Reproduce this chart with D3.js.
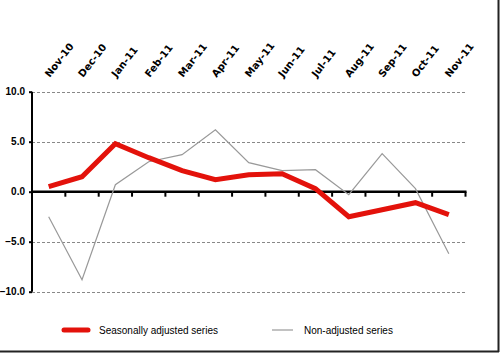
<!DOCTYPE html>
<html><head><meta charset="utf-8">
<script src="https://cdn.jsdelivr.net/npm/d3@7"></script>
<style>body{margin:0;background:#fff}svg{display:block}</style>
</head><body><svg id="c" width="500" height="355"></svg>
<script>
const months = ["Nov-10","Dec-10","Jan-11","Feb-11","Mar-11","Apr-11","May-11","Jun-11","Jul-11","Aug-11","Sep-11","Oct-11","Nov-11"];
const seasonallyAdjusted = [0.5,1.5,4.8,3.4,2.1,1.2,1.7,1.8,0.3,-2.5,-1.8,-1.1,-2.3];
const nonAdjusted = [-2.5,-8.8,0.7,3.0,3.7,6.2,2.9,2.1,2.2,-0.3,3.8,0.3,-6.2];
const yTicks = [10,5,0,-5,-10];
const seriesNames = ["Seasonally adjusted series","Non-adjusted series"];

const svg = d3.select("#c");
const x = d3.scaleBand().domain(months).range([32,465.5]);
const y = d3.scaleLinear().domain([-10,10]).range([291.7,91.7]);
const cx = d => x(d) + x.bandwidth()/2;

// frame (right and bottom)
svg.append("line").attr("x1",498.5).attr("x2",498.5).attr("y1",0).attr("y2",352).attr("stroke","#222").attr("stroke-width",2);
svg.append("line").attr("x1",0).attr("x2",499).attr("y1",351.5).attr("y2",351.5).attr("stroke","#222").attr("stroke-width",2);

// gridlines
svg.append("g").selectAll("line").data(yTicks.filter(t=>t!==0)).join("line")
  .attr("x1",32).attr("x2",465.5).attr("y1",d=>Math.round(y(d))+0.5).attr("y2",d=>Math.round(y(d))+0.5)
  .attr("stroke","#888").attr("stroke-width",1).attr("stroke-dasharray","3,2");

// y axis
const yAxis = svg.append("g").attr("transform","translate(32,0)")
  .call(d3.axisLeft(y).tickValues(yTicks).tickSize(3).tickFormat(d3.format(".1f")));
yAxis.select(".domain").attr("stroke","#000").attr("stroke-width",2).attr("d",`M0,${y(10)}V${y(-10)}`);
yAxis.selectAll(".tick line").attr("stroke","#000").attr("stroke-width",2);
yAxis.selectAll(".tick text").attr("x",-7).attr("font-family","Liberation Sans, Arial, sans-serif")
  .attr("font-weight","bold").attr("font-size",10).attr("fill","#000");

// x axis at zero
const xAxis = svg.append("g").attr("transform",`translate(0,${y(0)})`)
  .call(d3.axisBottom(x).tickSize(0).tickFormat(""));
xAxis.select(".domain").attr("stroke","#000").attr("stroke-width",2.5).attr("d","M32,0H466.5");
svg.append("g").selectAll("line").data(months).join("line")
  .attr("x1",d=>x(d)+x.bandwidth()).attr("x2",d=>x(d)+x.bandwidth())
  .attr("y1",y(0)).attr("y2",y(0)+5).attr("stroke","#000").attr("stroke-width",2);

// month labels
svg.append("g").selectAll("text").data(months).join("text")
  .attr("transform",d=>`translate(${cx(d)+1},78) rotate(-52)`)
  .attr("font-family","DejaVu Sans, sans-serif").attr("font-weight","bold")
  .attr("font-size",10).attr("fill","#000").text(d=>d);

// lines
const line = d3.line().x((d,i)=>cx(months[i])).y(d=>y(d));
svg.append("path").datum(nonAdjusted).attr("d",line).attr("fill","none").attr("stroke","#999").attr("stroke-width",1.2);
svg.append("path").datum(seasonallyAdjusted).attr("d",line).attr("fill","none").attr("stroke","#e3120b")
  .attr("stroke-width",5).attr("stroke-linejoin","miter");

// legend
const lg = svg.append("g").attr("font-family","Liberation Sans, Arial, sans-serif").attr("font-size",10).attr("fill","#000");
lg.append("line").attr("x1",64).attr("x2",88).attr("y1",330).attr("y2",330).attr("stroke","#e3120b").attr("stroke-width",5).attr("stroke-linecap","round");
lg.append("text").attr("x",99).attr("y",334).text(seriesNames[0]);
lg.append("line").attr("x1",272).attr("x2",293).attr("y1",330).attr("y2",330).attr("stroke","#999").attr("stroke-width",1.2);
lg.append("text").attr("x",304).attr("y",334).text(seriesNames[1]);
</script></body></html>
